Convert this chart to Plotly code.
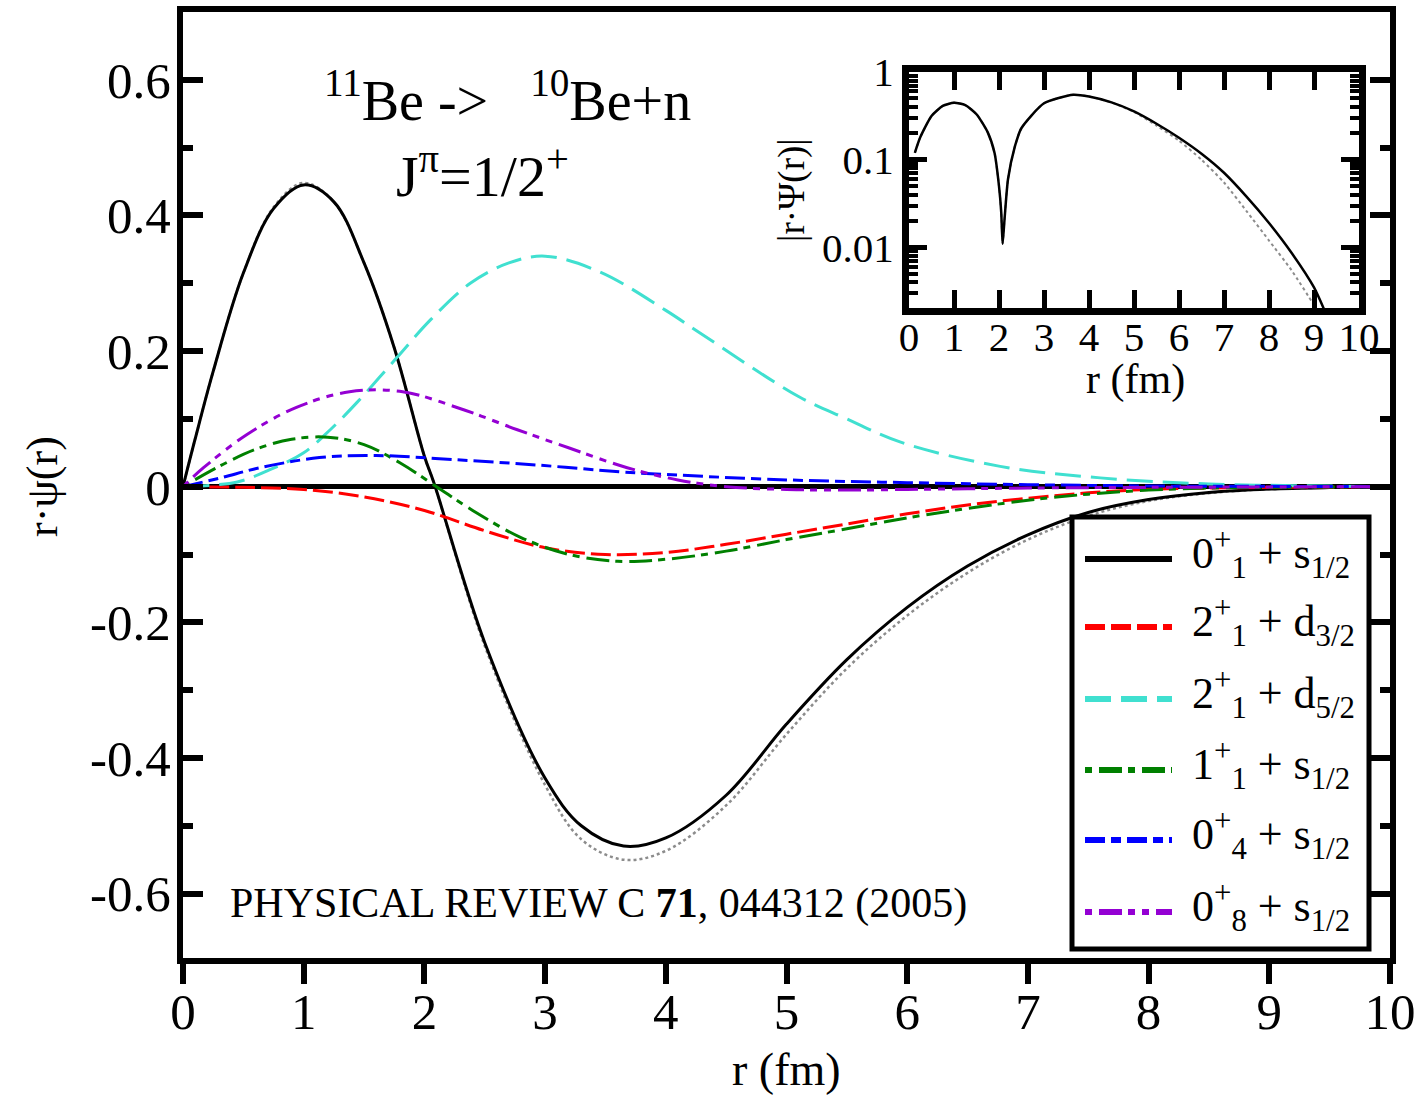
import plotly.graph_objects as go

# ---------------- data ----------------
r_main = [0, 0.1, 0.25, 0.5, 0.75, 1.0, 1.25, 1.5, 1.75, 2.0, 2.08, 2.5, 3.0, 3.3, 3.65,
          4.0, 4.5, 5.0, 5.5, 6.0, 6.5, 7.0, 7.5, 8.0, 8.5, 9.0, 9.5, 10.0]
psi_0p1_s12 = [0, 0.07, 0.17, 0.315, 0.41, 0.445, 0.42, 0.33, 0.205, 0.045, 0.005, -0.23, -0.43,
               -0.50, -0.53, -0.518, -0.455, -0.35, -0.255, -0.178, -0.117, -0.071, -0.038,
               -0.019, -0.0087, -0.0035, -0.0013, -0.0004]
psi_total = [0, 0.07, 0.17, 0.315, 0.412, 0.448, 0.42, 0.33, 0.205, 0.045, 0.005, -0.235, -0.44,
             -0.52, -0.55, -0.537, -0.47, -0.365, -0.268, -0.19, -0.127, -0.078, -0.043,
             -0.021, -0.0095, -0.0037, -0.0013, -0.0004]

r_red = [0, 0.5, 1.0, 1.5, 2.0, 2.5, 3.0, 3.5, 4.0, 4.5, 5.0, 5.5, 6.0, 6.5, 7.0, 7.5, 8.0, 8.5, 9.0, 10.0]
psi_2p1_d32 = [0, -0.001, -0.004, -0.015, -0.035, -0.065, -0.09, -0.10, -0.097, -0.085, -0.07,
               -0.055, -0.04, -0.027, -0.017, -0.009, -0.004, -0.002, -0.001, 0]

r_cyan = [0, 0.45, 0.72, 1.0, 1.22, 1.44, 1.77, 2.05, 2.38, 2.7, 3.0, 3.45, 4.0, 4.28, 5.1,
          5.5, 5.94, 6.77, 7.6, 8.5, 9.5, 10.0]
psi_2p1_d52 = [0, 0.007, 0.025, 0.05, 0.084, 0.124, 0.19, 0.246, 0.30, 0.33, 0.34, 0.317, 0.26,
               0.227, 0.133, 0.10, 0.066, 0.03, 0.013, 0.004, 0.001, 0.0]

r_green = [0, 0.3, 0.6, 0.9, 1.2, 1.5, 1.8, 2.1, 2.4, 2.8, 3.2, 3.6, 4.0, 4.5, 5.0, 5.5, 6.0,
           6.5, 7.0, 7.5, 8.0, 8.5, 9.0, 10.0]
psi_1p1_s12 = [0, 0.03, 0.055, 0.07, 0.073, 0.062, 0.035, 0.0, -0.035, -0.075, -0.1, -0.11,
               -0.107, -0.095, -0.078, -0.062, -0.046, -0.032, -0.02, -0.011, -0.005, -0.002,
               -0.001, 0]

r_blue = [0, 0.31, 0.64, 1.13, 1.6, 2.24, 2.93, 3.62, 4.0, 5.0, 6.0, 7.0, 8.0, 9.0, 10.0]
psi_0p4_s12 = [0, 0.013, 0.028, 0.043, 0.046, 0.04, 0.032, 0.022, 0.018, 0.01, 0.006, 0.003,
               0.001, 0.0005, 0]

r_purple = [0, 0.17, 0.53, 0.94, 1.38, 1.82, 2.3, 2.77, 3.2, 3.68, 4.1, 4.5, 5.0, 5.5, 6.0,
            6.5, 7.0, 8.0, 10.0]
psi_0p8_s12 = [0, 0.028, 0.077, 0.117, 0.14, 0.14, 0.115, 0.084, 0.057, 0.028, 0.01, 0.0,
               -0.004, -0.005, -0.004, -0.003, -0.002, -0.001, 0]

# inset: |r psi(r)| on a log scale
r_inset = [0.13, 0.25, 0.5, 0.75, 1.0, 1.25, 1.5, 1.75, 1.9, 2.0, 2.05, 2.08, 2.12, 2.2,
           2.35, 2.5, 3.0, 3.65, 4.0, 4.5, 5.0, 5.5, 6.0, 6.5, 7.0, 7.5, 8.0, 8.5, 9.0, 9.3]
abs_psi_inset = [0.12, 0.18, 0.315, 0.41, 0.445, 0.42, 0.33, 0.205, 0.12, 0.05, 0.025, 0.011,
                 0.02, 0.06, 0.14, 0.23, 0.44, 0.55, 0.525, 0.45, 0.355, 0.257, 0.178, 0.117,
                 0.071, 0.038, 0.019, 0.0087, 0.0035, 0.0016]
abs_psi_inset_total = [0.12, 0.18, 0.315, 0.41, 0.448, 0.42, 0.33, 0.205, 0.12, 0.05, 0.025, 0.011,
                       0.02, 0.06, 0.14, 0.23, 0.44, 0.55, 0.525, 0.45, 0.35, 0.245, 0.165,
                       0.10, 0.055, 0.026, 0.012, 0.0055, 0.0022, 0.0012]

x_ticks = [0, 1, 2, 3, 4, 5, 6, 7, 8, 9, 10]
y_ticks = [-0.6, -0.4, -0.2, 0, 0.2, 0.4, 0.6]
y_tick_text = ["-0.6", "-0.4", "-0.2", "0", "0.2", "0.4", "0.6"]
inset_y_ticks = [0.01, 0.1, 1]
inset_y_tick_text = ["0.01", "0.1", "1"]

legend_labels = [
    "0<sup>+</sup><sub>1</sub> + s<sub>1/2</sub>",
    "2<sup>+</sup><sub>1</sub> + d<sub>3/2</sub>",
    "2<sup>+</sup><sub>1</sub> + d<sub>5/2</sub>",
    "1<sup>+</sup><sub>1</sub> + s<sub>1/2</sub>",
    "0<sup>+</sup><sub>4</sub> + s<sub>1/2</sub>",
    "0<sup>+</sup><sub>8</sub> + s<sub>1/2</sub>",
]

# ---------------- styles ----------------
SERIF = "Liberation Serif, Times New Roman, serif"
colors = ["black", "#ff0000", "#40e0d0", "#008000", "#0000ff", "#9400d3"]
dashes = ["solid", "20px,6px", "26px,10px", "7px,7px,23px,6px", "20px,6px,10px,6px",
          "7px,7px,23px,6px,7px,7px"]

fig = go.Figure()

fig.add_trace(go.Scatter(x=r_main, y=psi_total, mode="lines", showlegend=False,
                         line=dict(color="#8c8c8c", width=2.5, dash="dot", shape="spline")))
series = [(r_main, psi_0p1_s12), (r_red, psi_2p1_d32), (r_cyan, psi_2p1_d52),
          (r_green, psi_1p1_s12), (r_blue, psi_0p4_s12), (r_purple, psi_0p8_s12)]
for (xs, ys), c, d in zip(series, colors, dashes):
    fig.add_trace(go.Scatter(x=xs, y=ys, mode="lines", showlegend=False,
                             line=dict(color=c, width=3, dash=d, shape="spline")))

fig.add_trace(go.Scatter(x=r_inset, y=abs_psi_inset_total, xaxis="x2", yaxis="y2", mode="lines",
                         showlegend=False,
                         line=dict(color="#8c8c8c", width=2, dash="dot", shape="spline", smoothing=0.6)))
fig.add_trace(go.Scatter(x=r_inset, y=abs_psi_inset, xaxis="x2", yaxis="y2", mode="lines",
                         showlegend=False,
                         line=dict(color="black", width=2.5, shape="spline", smoothing=0.6)))

W, H = 1419, 1098
ML, MR, MT, MB = 183, 29, 12, 140
PW, PH = W - ML - MR, H - MT - MB


def px_x(px):
    return (px - ML) / PW


def px_y(py):
    return (H - MB - py) / PH


fig.update_layout(
    width=W, height=H,
    margin=dict(l=ML, r=MR, t=MT, b=MB, autoexpand=False),
    paper_bgcolor="white", plot_bgcolor="white",
    font=dict(family=SERIF, color="black"),
    xaxis=dict(range=[0, 10], tickvals=x_ticks, ticks="outside", ticklen=20, tickwidth=6,
               tickcolor="black", showline=True, linewidth=6, linecolor="black", mirror=True,
               showgrid=False, zeroline=False, tickfont=dict(size=51, family=SERIF),
               ticklabelstandoff=-16, automargin=False),
    yaxis=dict(range=[-0.695, 0.70], tickvals=y_ticks, ticktext=y_tick_text, ticks="inside",
               ticklen=20, tickwidth=6, tickcolor="black", showline=True, linewidth=6,
               linecolor="black", mirror="ticks", showgrid=False, zeroline=True,
               zerolinecolor="black", zerolinewidth=5,
               minor=dict(dtick=0.1, tick0=0, ticks="inside", ticklen=10, tickwidth=6,
                          tickcolor="black", showgrid=False),
               tickfont=dict(size=51, family=SERIF), ticklabelstandoff=-4, automargin=False),
    xaxis2=dict(domain=[px_x(909), px_x(1359)], anchor="y2", range=[0, 10], tickvals=x_ticks,
                ticks="inside", ticklen=18, tickwidth=5, tickcolor="black", showline=True,
                linewidth=7, linecolor="black", mirror="ticks", showgrid=False, zeroline=False,
                tickfont=dict(size=41, family=SERIF), ticklabelstandoff=-13, automargin=False),
    yaxis2=dict(domain=[px_y(308), px_y(72)], anchor="x2", type="log", range=[-2.69, 0.0],
                tickvals=inset_y_ticks, ticktext=inset_y_tick_text, ticks="inside", ticklen=18,
                tickwidth=5, tickcolor="black", showline=True, linewidth=7, linecolor="black",
                mirror="ticks", showgrid=False, zeroline=False,
                minor=dict(ticks="inside", ticklen=9, tickwidth=4, tickcolor="black",
                           dtick="D1", showgrid=False),
                tickfont=dict(size=41, family=SERIF), ticklabelstandoff=0, automargin=False),
)

annotations = [
    dict(text="r·ψ(r)", x=px_x(42), y=px_y(487), textangle=-90, font=dict(size=44)),
    dict(text="r (fm)", x=px_x(786), y=px_y(1069), font=dict(size=46)),
    dict(text="r (fm)", x=px_x(1135), y=px_y(380), font=dict(size=42)),
    dict(text="|r·Ψ(r)|", x=px_x(792), y=px_y(190), textangle=-90, font=dict(size=37)),
    dict(text="<sup>11</sup>Be ->\u00a0\u00a0\u00a0<sup>10</sup>Be+n", x=px_x(507), y=px_y(96),
         font=dict(size=56)),
    dict(text="J<sup>π</sup>=1/2<sup>+</sup>", x=px_x(482), y=px_y(172), font=dict(size=58)),
    dict(text="PHYSICAL REVIEW C <b>71</b>, 044312 (2005)", x=px_x(228), y=px_y(903),
         xanchor="left", font=dict(size=42)),
]

shapes = [dict(type="rect", xref="paper", yref="paper", x0=px_x(1072), x1=px_x(1369),
               y0=px_y(949), y1=px_y(517), line=dict(color="black", width=5),
               fillcolor="white", layer="above")]

row_y = [559, 627, 699, 770, 840, 912]
for lab, c, d, ry in zip(legend_labels, colors, dashes, row_y):
    shapes.append(dict(type="line", xref="paper", yref="paper", x0=px_x(1085), x1=px_x(1172),
                       y0=px_y(ry), y1=px_y(ry), layer="above",
                       line=dict(color=c, width=6, dash=d)))
    annotations.append(dict(text=lab, x=px_x(1190), y=px_y(ry - 5), xanchor="left",
                            font=dict(size=44)))

for a in annotations:
    a.setdefault("xref", "paper")
    a.setdefault("yref", "paper")
    a.setdefault("showarrow", False)
    a.setdefault("xanchor", "center")
    a.setdefault("yanchor", "middle")
    a["font"].setdefault("family", SERIF)
    a["font"].setdefault("color", "black")

fig.update_layout(annotations=annotations, shapes=shapes)

fig.write_html("out.html")
